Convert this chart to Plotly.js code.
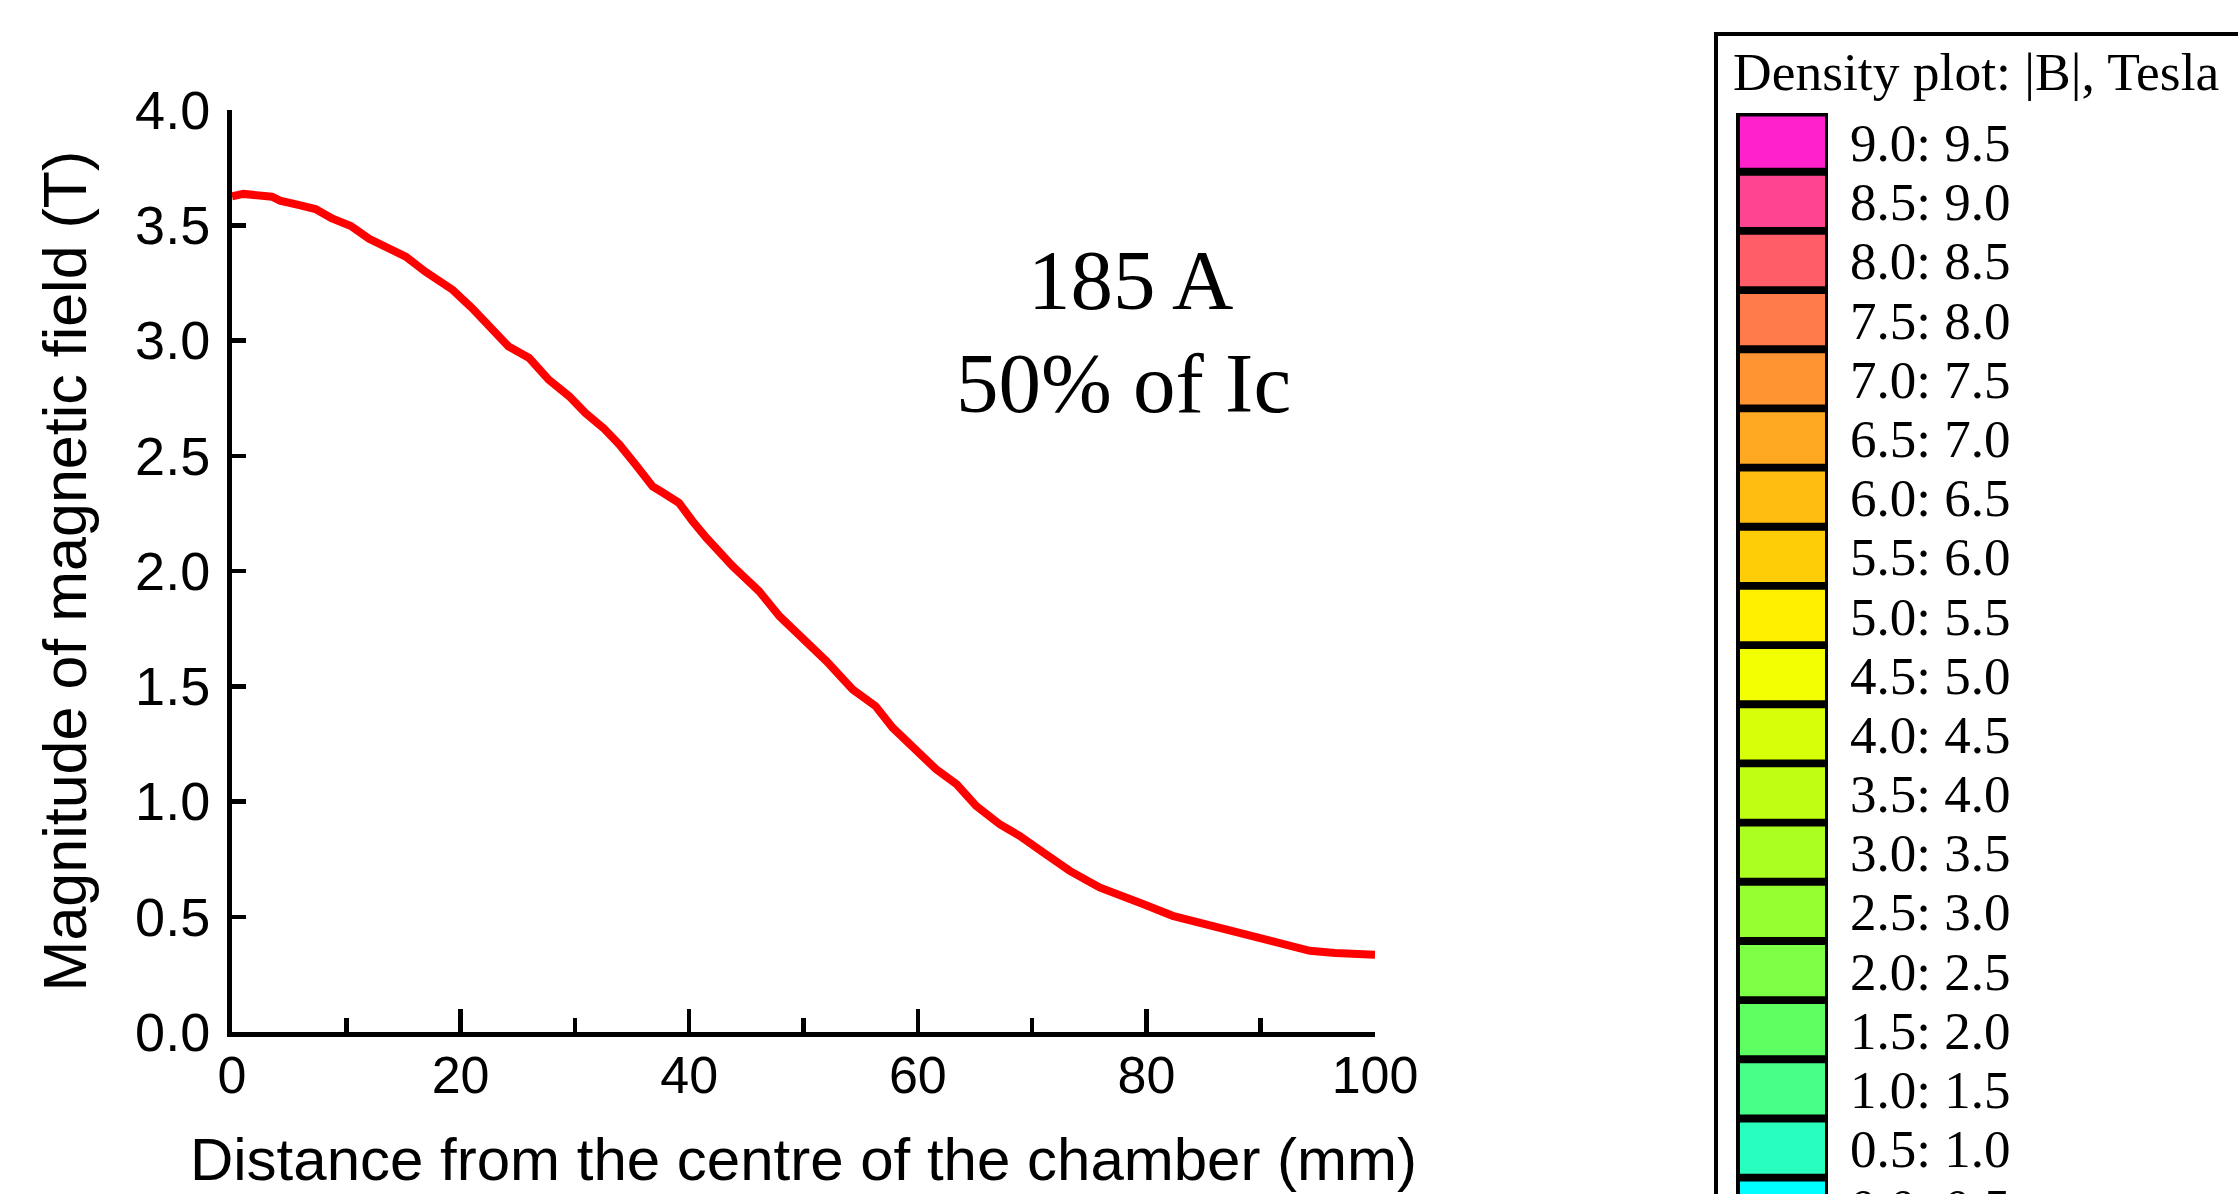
<!DOCTYPE html>
<html>
<head>
<meta charset="utf-8">
<script src="https://cdn.plot.ly/plotly-3.0.1.min.js"></script>
<style>
  html, body { margin: 0; padding: 0; background: #ffffff; }
  #chart { width: 2238px; height: 1194px; }
</style>
</head>
<body>
<div id="chart"></div>
<script>
// ---- Data ----
var distance_mm = [0, 1, 3.5, 4.2, 5.8, 7.3, 8.7, 10.4, 12.0, 13.4, 15.2, 16.9, 19.3, 21.0, 22.5, 24.2, 26.0, 27.7, 29.5, 30.9, 32.5, 33.9, 35.3, 36.8, 37.5, 39.1, 40.3, 41.5, 43.8, 46.1, 47.9, 49.6, 52.0, 54.3, 56.3, 57.8, 60.1, 61.6, 63.4, 65.1, 67.2, 68.9, 71.2, 73.3, 75.9, 78.0, 79.7, 82.3, 85.3, 88.2, 91.4, 94.3, 96.5, 98.4, 100];
var field_T = [3.626, 3.636, 3.624, 3.607, 3.588, 3.570, 3.531, 3.497, 3.441, 3.405, 3.364, 3.299, 3.220, 3.141, 3.061, 2.974, 2.924, 2.830, 2.758, 2.686, 2.620, 2.548, 2.462, 2.367, 2.346, 2.296, 2.216, 2.144, 2.021, 1.913, 1.804, 1.725, 1.609, 1.486, 1.414, 1.320, 1.205, 1.140, 1.075, 0.981, 0.900, 0.851, 0.771, 0.699, 0.627, 0.591, 0.555, 0.504, 0.464, 0.428, 0.389, 0.352, 0.343, 0.335, 0.335];

var xTickVals = [0, 20, 40, 60, 80, 100];
var xTickText = ["0", "20", "40", "60", "80", "100"];
var yTickVals = [0, 0.5, 1, 1.5, 2, 2.5, 3, 3.5, 4];
var yTickText = ["0.0", "0.5", "1.0", "1.5", "2.0", "2.5", "3.0", "3.5", "4.0"];

var legendTitle = "Density plot: |B|, Tesla";
var legendLabels = ["9.0: 9.5", "8.5: 9.0", "8.0: 8.5", "7.5: 8.0", "7.0: 7.5", "6.5: 7.0", "6.0: 6.5", "5.5: 6.0", "5.0: 5.5", "4.5: 5.0", "4.0: 4.5", "3.5: 4.0", "3.0: 3.5", "2.5: 3.0", "2.0: 2.5", "1.5: 2.0", "1.0: 1.5", "0.5: 1.0", "0.0: 0.5"];
var legendColors = ["#ff22cc", "#ff4591", "#ff5e69", "#ff7b4b", "#ff9433", "#ffa922", "#ffbd12", "#ffcc08", "#fff000", "#f2ff00", "#d8ff0a", "#c0ff14", "#aaff20", "#96ff30", "#7cff44", "#5eff60", "#48ff88", "#28ffbe", "#00ffff"];

var annotLine1 = "185 A";
var annotLine2 = "50% of Ic";

// ---- Layout geometry (pixels) ----
var W = 2238, H = 1194;
var L = 232, R = 1375, T = 110, B = 1032;
function px2x(px) { return (px - L) / (R - L); }
function py2y(py) { return (B - py) / (B - T); }

var sans = "Liberation Sans, Arial, Helvetica, sans-serif";
var serif = "Liberation Serif, Times New Roman, Times, serif";

var shapes = [];
var annotations = [];

// Legend frame
shapes.push({type: "rect", xref: "paper", yref: "paper",
  x0: px2x(1716), x1: px2x(2270), y0: py2y(1240), y1: py2y(34),
  line: {color: "#000000", width: 4}, fillcolor: "rgba(0,0,0,0)", layer: "above"});
// Black column behind swatches
shapes.push({type: "rect", xref: "paper", yref: "paper",
  x0: px2x(1736), x1: px2x(1828), y0: py2y(1240), y1: py2y(113),
  line: {width: 0}, fillcolor: "#000000", layer: "above"});

var rowTop0 = 116.5, rowPitch = 59.17, rowInner = 51.3;
for (var i = 0; i < legendLabels.length; i++) {
  var rowTopPx = rowTop0 + i * rowPitch;
  shapes.push({type: "rect", xref: "paper", yref: "paper",
    x0: px2x(1740), x1: px2x(1825), y0: py2y(rowTopPx + rowInner), y1: py2y(rowTopPx),
    line: {width: 0}, fillcolor: legendColors[i], layer: "above"});
  annotations.push({xref: "paper", yref: "paper", x: px2x(1848), y: py2y(rowTopPx + rowInner / 2 + 1),
    xanchor: "left", yanchor: "middle", showarrow: false, text: legendLabels[i],
    font: {family: serif, size: 53, color: "#000000"}});
}
annotations.push({xref: "paper", yref: "paper", x: px2x(1731), y: py2y(72),
  xanchor: "left", yanchor: "middle", showarrow: false, text: legendTitle,
  font: {family: serif, size: 53.5, color: "#000000"}});

annotations.push({xref: "paper", yref: "paper", x: px2x(1130), y: py2y(280),
  xanchor: "center", yanchor: "middle", showarrow: false, text: annotLine1,
  font: {family: serif, size: 85, color: "#000000"}});
annotations.push({xref: "paper", yref: "paper", x: px2x(1123), y: py2y(383),
  xanchor: "center", yanchor: "middle", showarrow: false, text: annotLine2,
  font: {family: serif, size: 85, color: "#000000"}});

var trace = {
  x: distance_mm, y: field_T, type: "scatter", mode: "lines",
  line: {color: "#ff0000", width: 8, shape: "linear"},
  hoverinfo: "skip", showlegend: false
};

var layout = {
  width: W, height: H,
  margin: {l: L, r: W - R, t: T, b: H - B, pad: 0},
  paper_bgcolor: "#ffffff", plot_bgcolor: "#ffffff",
  showlegend: false,
  xaxis: {
    range: [0, 100], tickvals: xTickVals, ticktext: xTickText,
    ticks: "inside", ticklen: 23, tickwidth: 4.5, tickcolor: "#000000",
    minor: {dtick: 10, tick0: 0, ticks: "inside", ticklen: 14, tickwidth: 4.5, tickcolor: "#000000", showgrid: false},
    showline: true, linewidth: 5, linecolor: "#000000",
    showgrid: false, zeroline: false, fixedrange: true,
    tickfont: {family: sans, size: 52, color: "#000000"},
    ticklabelstandoff: -6,
    title: {text: "Distance from the centre of the chamber (mm)", font: {family: sans, size: 60, color: "#000000"}, standoff: 36}
  },
  yaxis: {
    range: [0, 4], tickvals: yTickVals, ticktext: yTickText,
    ticks: "inside", ticklen: 14, tickwidth: 4.5, tickcolor: "#000000",
    showline: true, linewidth: 5, linecolor: "#000000",
    showgrid: false, zeroline: false, fixedrange: true,
    tickfont: {family: sans, size: 54, color: "#000000"},
    ticklabelstandoff: 6,
    title: {text: "Magnitude of magnetic field (T)", font: {family: sans, size: 61, color: "#000000"}, standoff: 30}
  },
  shapes: shapes,
  annotations: annotations
};

Plotly.newPlot("chart", [trace], layout, {displayModeBar: false, staticPlot: true});
</script>
</body>
</html>
